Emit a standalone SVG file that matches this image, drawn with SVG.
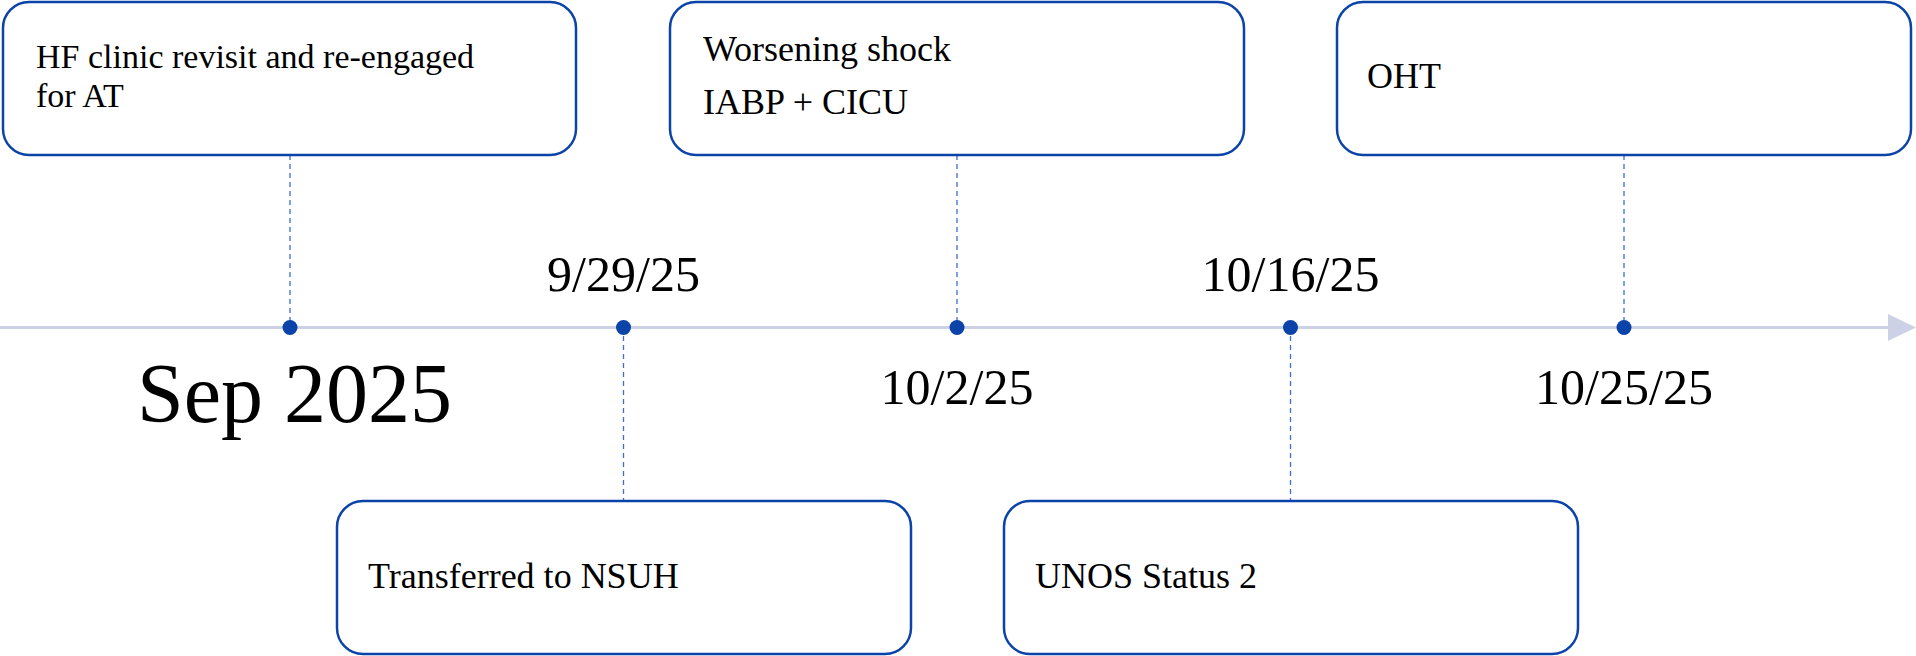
<svg xmlns="http://www.w3.org/2000/svg" width="1916" height="656" viewBox="0 0 1916 656">
<style>
.box{fill:#ffffff;stroke:#0b43a8;stroke-width:2.5}
.t{font-family:"Liberation Serif","DejaVu Serif",serif;fill:#000;font-size:36px}
.d{font-family:"Liberation Serif","DejaVu Serif",serif;fill:#000;font-size:50px;text-anchor:middle}
.dash{stroke:#3b6fd1;stroke-width:1.3;stroke-dasharray:5 4;fill:none}
.dot{fill:#0b43a8}
</style>
<rect width="1916" height="656" fill="#ffffff"/>
<g id="axis">
<line x1="0" y1="327.5" x2="1892" y2="327.5" stroke="#cdd1e6" stroke-width="3"/>
<polygon points="1888,314 1916,327.5 1888,341" fill="#cdd1e6"/>
</g>
<g id="connectors">
<line class="dash" x1="290" y1="155" x2="290" y2="327"/>
<line class="dash" x1="957" y1="155" x2="957" y2="327"/>
<line class="dash" x1="1624" y1="155" x2="1624" y2="327"/>
<line class="dash" x1="623.5" y1="327" x2="623.5" y2="501"/>
<line class="dash" x1="1290.5" y1="327" x2="1290.5" y2="501"/>
</g>
<g id="dots">
<circle class="dot" cx="290" cy="327.5" r="7.5"/>
<circle class="dot" cx="623.5" cy="327.5" r="7.5"/>
<circle class="dot" cx="957" cy="327.5" r="7.5"/>
<circle class="dot" cx="1290.5" cy="327.5" r="7.5"/>
<circle class="dot" cx="1624" cy="327.5" r="7.5"/>
</g>
<g id="node-hf">
<rect class="box" x="3" y="2" width="573" height="153" rx="26"/>
<text class="t" x="36" y="68" font-size="34" style="font-size:34px">HF clinic revisit and re-engaged</text>
<text class="t" x="36" y="107" style="font-size:34px">for AT</text>
</g>
<g id="node-shock">
<rect class="box" x="670" y="2" width="574" height="153" rx="26"/>
<text class="t" x="703" y="61">Worsening shock</text>
<text class="t" x="703" y="114">IABP + CICU</text>
</g>
<g id="node-oht">
<rect class="box" x="1337" y="2" width="574" height="153" rx="26"/>
<text class="t" x="1367" y="88">OHT</text>
</g>
<g id="node-nsuh">
<rect class="box" x="337" y="501" width="574" height="153" rx="26"/>
<text class="t" x="368" y="588">Transferred to NSUH</text>
</g>
<g id="node-unos">
<rect class="box" x="1004" y="501" width="574" height="153" rx="26"/>
<text class="t" x="1035" y="588">UNOS Status 2</text>
</g>
<g id="dates">
<text class="d" x="623.5" y="291">9/29/25</text>
<text class="d" x="1290.5" y="291">10/16/25</text>
<text class="d" x="957" y="404">10/2/25</text>
<text class="d" x="1624" y="404">10/25/25</text>
<text x="137" y="422" font-family="'Liberation Serif','DejaVu Serif',serif" font-size="84" fill="#000">Sep 2025</text>
</g>
</svg>
